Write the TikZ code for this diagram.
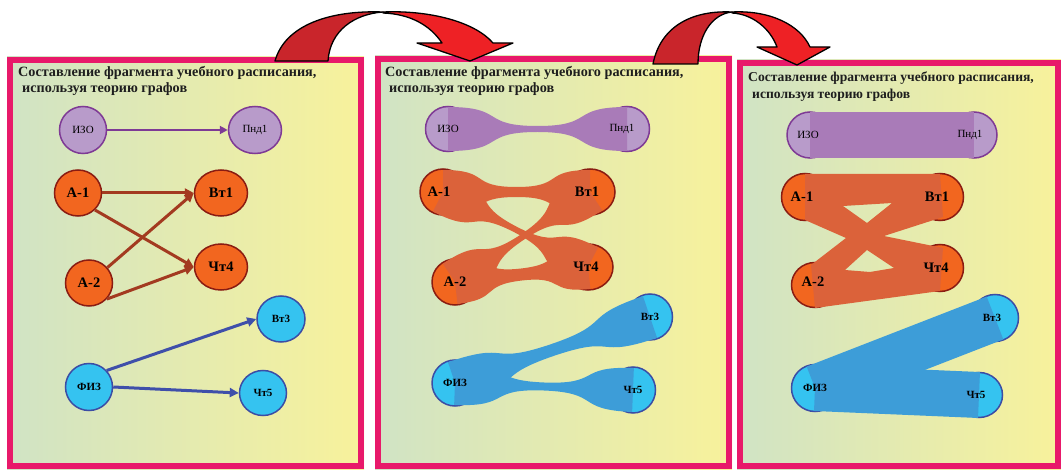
\documentclass[tikz,border=0pt]{standalone}
\usepackage{fontspec}
\setmainfont{Liberation Serif}
\usetikzlibrary{shapes.geometric,arrows.meta,calc}
\definecolor{bgL}{HTML}{D0E3C5}
\definecolor{bgR}{HTML}{F8F29B}
\definecolor{frm}{HTML}{E8196A}
\definecolor{pfill}{HTML}{B89BCA}
\definecolor{pline}{HTML}{7E3A95}
\definecolor{pband}{HTML}{A97BB8}
\definecolor{ofill}{HTML}{F2661F}
\definecolor{oline}{HTML}{8A1C12}
\definecolor{oband}{HTML}{DB623A}
\definecolor{oarr}{HTML}{A33A20}
\definecolor{cfill}{HTML}{35C3F0}
\definecolor{cline}{HTML}{3B4DA5}
\definecolor{cband}{HTML}{3D9DD8}
\definecolor{carr}{HTML}{3F4FAA}
\definecolor{darkred}{HTML}{C9252B}
\definecolor{brightred}{HTML}{EE2125}
\definecolor{ttl}{HTML}{1E1E1E}
\newcommand\hglass[6]{%
 \coordinate (hA) at (#1.center);
 \coordinate (hB) at (#2.center);
 \coordinate (hM) at ($(hA)!0.5!(hB)$);
 \coordinate (hA1) at ($(hA)!#3!90:(hB)$);
 \coordinate (hA2) at ($(hA)!#3!-90:(hB)$);
 \coordinate (hB1) at ($(hB)!#4!-90:(hA)$);
 \coordinate (hB2) at ($(hB)!#4!90:(hA)$);
 \coordinate (hM1) at ($(hM)!#5!90:(hB)$);
 \coordinate (hM2) at ($(hM)!#5!-90:(hB)$);
 \fill[#6] (hA1) .. controls ($(hA1)+0.65*(hM)-0.65*(hA)$) and ($(hM1)-0.65*(hM)+0.65*(hA)$) .. (hM1)
   .. controls ($(hM1)+0.65*(hB)-0.65*(hM)$) and ($(hB1)-0.65*(hB)+0.65*(hM)$) .. (hB1)
   -- (hB2) .. controls ($(hB2)-0.65*(hB)+0.65*(hM)$) and ($(hM2)+0.65*(hB)-0.65*(hM)$) .. (hM2)
   .. controls ($(hM2)-0.65*(hM)+0.65*(hA)$) and ($(hA2)+0.65*(hM)-0.65*(hA)$) .. (hA2) -- cycle;
}
\begin{document}
\begin{tikzpicture}[x=1pt,y=-1pt,
  panelbg/.style={left color=bgL,right color=bgR},
  panelfrm/.style={draw=frm,line width=6pt},
  ttlA/.style={anchor=west,inner sep=0pt,text=ttl,font=\bfseries\fontsize{14.2}{16}\selectfont},
  ttlB/.style={anchor=west,inner sep=0pt,text=ttl,font=\bfseries\fontsize{13.6}{16}\selectfont},
  vnode/.style={ellipse,inner sep=0pt,line width=1.5pt},
  pnode/.style={vnode,fill=pfill,draw=pline},
  onode/.style={vnode,fill=ofill,draw=oline},
  cnode/.style={vnode,fill=cfill,draw=cline},
  small/.style={font=\fontsize{11}{12}\selectfont},
  smallb/.style={font=\bfseries\fontsize{11}{12}\selectfont},
  big/.style={font=\bfseries\fontsize{14.5}{15}\selectfont},
  lbl/.style={inner sep=0pt,text=black},
  parr/.style={draw=pline,line width=2.5pt,-{Triangle[length=8pt,width=8pt]}},
  oarrow/.style={draw=oarr,line width=3pt,-{Triangle[length=9pt,width=9pt]}},
  carrow/.style={draw=carr,line width=3pt,-{Triangle[length=9pt,width=9pt]}},
  thick3/.style={line width=46pt},
  redarrow/.style={draw=black,line width=1.3pt,line join=round}
]
\useasboundingbox (0,0) rectangle (1061,470);
\fill[white] (0,0) rectangle (1061,470);

% ---------- panel backgrounds ----------
\fill[panelbg] (7,57) rectangle (364,469);
\draw[panelfrm] (10,60) rectangle (361,466);
\fill[panelbg] (375,56) rectangle (732,469);
\draw[panelfrm] (378,59) rectangle (729,466);
\fill[panelbg] (737,60) rectangle (1061,469);
\draw[panelfrm] (740,63) rectangle (1058,466);

% ---------- titles ----------
\node[ttlA] (t1a) at (18,73) {Составление фрагмента учебного расписания,};
\node[ttlA] (t1b) at (22,89) {используя теорию графов};
\node[ttlA] (t2a) at (385,73) {Составление фрагмента учебного расписания,};
\node[ttlA] (t2b) at (389,89) {используя теорию графов};
\node[ttlB] (t3a) at (748,78) {Составление фрагмента учебного расписания,};
\node[ttlB] (t3b) at (752,95) {используя теорию графов};

% ---------- panel 1 ----------
\node[pnode,minimum width=47pt,minimum height=47pt,small] (izoA) at (83,130) {ИЗО};
\node[pnode,minimum width=53pt,minimum height=47pt,small] (pnA) at (255,130) {Пнд1};
\node[onode,minimum width=47pt,minimum height=46pt,big] (a1A) at (78,193) {А-1};
\node[onode,minimum width=53pt,minimum height=46pt,big] (vt1A) at (221,193) {Вт1};
\node[onode,minimum width=47pt,minimum height=46pt,big] (a2A) at (89,283) {А-2};
\node[onode,minimum width=53pt,minimum height=46pt,big] (ch4A) at (221,267) {Чт4};
\node[cnode,minimum width=48pt,minimum height=46pt,smallb] (vt3A) at (281,319) {Вт3};
\node[cnode,minimum width=47pt,minimum height=47pt,smallb] (fizA) at (89,387) {ФИЗ};
\node[cnode,minimum width=47pt,minimum height=45pt,smallb] (ch5A) at (263,393) {Чт5};
\draw[parr] (izoA.east) -- (pnA.west);
\draw[oarrow] (a1A.east) -- (vt1A.west);
\draw[oarrow] (a1A.-45) -- (ch4A.west);
\draw[oarrow] (a2A.40) -- (vt1A.west);
\draw[oarrow] (a2A.-42) -- (ch4A.west);
\draw[carrow] (fizA.43) -- (vt3A.west);
\draw[carrow] (fizA.east) -- (ch5A.west);

% ---------- panel 2 ----------
\node[pnode,minimum width=45pt,minimum height=45pt] (izoB) at (448,129) {};
\node[pnode,minimum width=45pt,minimum height=45pt] (pnB) at (627,129) {};
\node[onode,minimum width=46pt,minimum height=46pt] (a1B) at (443,192) {};
\node[onode,minimum width=50pt,minimum height=46pt] (vt1B) at (590,192) {};
\node[onode,minimum width=46pt,minimum height=46pt] (a2B) at (455,282) {};
\node[onode,minimum width=50pt,minimum height=46pt] (ch4B) at (588,267) {};
\node[cnode,minimum width=45pt,minimum height=46pt] (vt3B) at (650,317) {};
\node[cnode,minimum width=46pt,minimum height=46pt] (fizB) at (455,383) {};
\node[cnode,minimum width=45pt,minimum height=46pt] (ch5B) at (633,390) {};
\hglass{izoB}{pnB}{22pt}{22pt}{3pt}{pband}
\hglass{a1B}{vt1B}{22pt}{22pt}{5pt}{oband}
\hglass{a1B}{ch4B}{22pt}{22pt}{3pt}{oband}
\hglass{a2B}{vt1B}{22pt}{22pt}{3pt}{oband}
\hglass{a2B}{ch4B}{22pt}{22pt}{6pt}{oband}
\hglass{fizB}{vt3B}{22pt}{22pt}{6pt}{cband}
\hglass{fizB}{ch5B}{22pt}{22pt}{4pt}{cband}
\node[lbl,small] (izoBt) at (izoB) {ИЗО};
\node[lbl,small] (pnBt) at ([xshift=-5pt]pnB.center) {Пнд1};
\node[lbl,big] (a1Bt) at ([xshift=-4pt]a1B.center) {А-1};
\node[lbl,big] (vt1Bt) at ([xshift=-3pt]vt1B.center) {Вт1};
\node[lbl,big] (a2Bt) at (a2B) {А-2};
\node[lbl,big] (ch4Bt) at ([xshift=-2pt]ch4B.center) {Чт4};
\node[lbl,smallb] (vt3Bt) at (vt3B) {Вт3};
\node[lbl,smallb] (fizBt) at (fizB) {ФИЗ};
\node[lbl,smallb] (ch5Bt) at (ch5B) {Чт5};

% ---------- panel 3 ----------
\node[pnode,minimum width=46pt,minimum height=46pt] (izoC) at (810,135) {};
\node[pnode,minimum width=46pt,minimum height=46pt] (pnC) at (974,135) {};
\node[onode,minimum width=47pt,minimum height=47pt] (a1C) at (805,197) {};
\node[onode,minimum width=47pt,minimum height=47pt] (vt1C) at (940,197) {};
\node[onode,minimum width=47pt,minimum height=45pt] (a2C) at (815,285) {};
\node[onode,minimum width=47pt,minimum height=47pt] (ch4C) at (940,268) {};
\node[cnode,minimum width=47pt,minimum height=47pt] (vt3C) at (995,318) {};
\node[cnode,minimum width=47pt,minimum height=47pt] (fizC) at (815,388) {};
\node[cnode,minimum width=47pt,minimum height=45pt] (ch5C) at (979,395) {};
\draw[thick3,pband] (izoC.center) -- (pnC.center);
% orange band group (one shape with two holes)
\fill[oband,even odd rule]
  (a1C.center) -- ($(a1C.center)+(0,-23)$) -- ($(vt1C.center)+(0,-23)$) -- ($(vt1C.center)+(3,20)$)
  -- (884,236) -- ($(ch4C.center)+(3,-20)$) -- ($(ch4C.center)+(0,23)$)
  -- ($(a2C.center)+(0,23)$) -- ($(a2C.center)+(-4,-20)$) -- (846,238) -- ($(a1C.center)+(0,23)$) -- cycle
  (843,206) -- (892,203) -- (867,223) -- cycle
  (867,250) -- (894,268) -- (870,272) -- (845,270) -- cycle;
\draw[thick3,cband] (fizC.center) -- (vt3C.center);
\draw[thick3,cband] (fizC.center) -- (ch5C.center);
\node[lbl,small] (izoCt) at ([xshift=-2pt]izoC.center) {ИЗО};
\node[lbl,small] (pnCt) at ([xshift=-4pt]pnC.center) {Пнд1};
\node[lbl,big] (a1Ct) at ([xshift=-3pt]a1C.center) {А-1};
\node[lbl,big] (vt1Ct) at ([xshift=-3pt]vt1C.center) {Вт1};
\node[lbl,big] (a2Ct) at ([xshift=-2pt,yshift=3pt]a2C.center) {А-2};
\node[lbl,big] (ch4Ct) at ([xshift=-4pt]ch4C.center) {Чт4};
\node[lbl,smallb] (vt3Ct) at ([xshift=-3pt]vt3C.center) {Вт3};
\node[lbl,smallb] (fizCt) at (fizC) {ФИЗ};
\node[lbl,smallb] (ch5Ct) at ([xshift=-3pt]ch5C.center) {Чт5};

% ---------- curved red arrows ----------
\filldraw[redarrow,fill=darkred] (275,61) .. controls (285,25) and (330,10) .. (383,12)
  .. controls (355,14) and (330,30) .. (328,61) -- cycle;
\filldraw[redarrow,fill=brightred] (383,12) .. controls (430,10) and (475,22) .. (493,43)
  -- (513,43) -- (470,61) -- (417,43) -- (442,43)
  .. controls (430,25) and (410,14) .. (383,13) -- cycle;
\filldraw[redarrow,fill=darkred] (653,64) .. controls (660,28) and (690,10) .. (732,12)
  .. controls (712,14) and (698,35) .. (698,64) -- cycle;
\filldraw[redarrow,fill=brightred] (732,12) .. controls (770,10) and (800,25) .. (810,47)
  -- (830,47) -- (797,65) -- (757,47) -- (777,47)
  .. controls (770,28) and (752,14) .. (732,13) -- cycle;
\end{tikzpicture}
\end{document}
